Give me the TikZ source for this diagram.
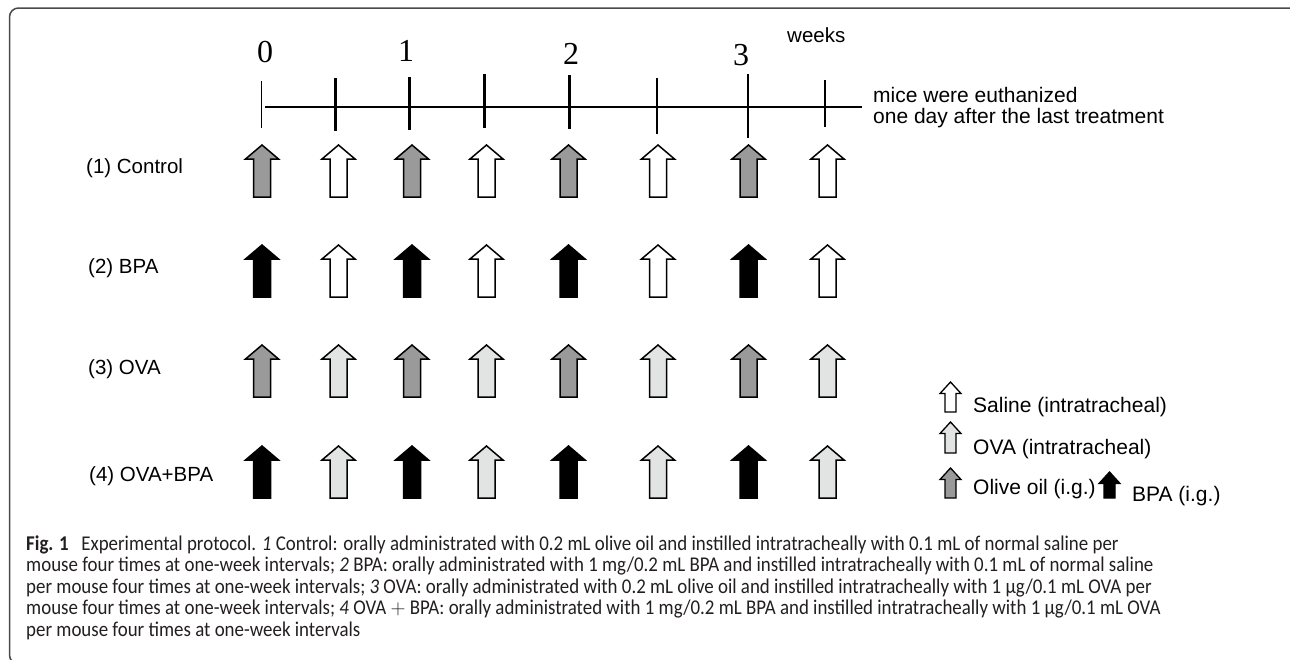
\documentclass[tikz,border=0pt]{standalone}
\usepackage{fontspec}
\setmainfont{Liberation Sans}
\newfontfamily\numfont{Liberation Serif}
\newfontfamily\capfont[FakeStretch=0.9]{Carlito}
\definecolor{olive}{HTML}{9A9A9A}
\definecolor{ovac}{HTML}{E2E3E3}
\definecolor{framec}{HTML}{4A4A4A}
\definecolor{captc}{HTML}{231F20}
\tikzset{
  arrowline/.style={draw=black, line width=1.5pt, line join=miter},
  lbl/.style={inner sep=0pt, anchor=base west, font=\fontsize{20.5}{24}\selectfont},
  wk/.style={inner sep=0pt, anchor=base, font=\fontsize{32}{36}\numfont},
  capl/.style={inner sep=0pt, anchor=base west, text=captc, font=\fontsize{21}{24}\capfont},
  tick/.style={line width=2.4pt},
}
% big arrow: x centre, y tip, fill
\newcommand\bigarr[3]{%
  \draw[arrowline, fill=#3] (#1-8.5,#2+52) -- (#1-8.5,#2+14) -- (#1-16.5,#2+14) -- (#1,#2)
    -- (#1+16.5,#2+14) -- (#1+8.5,#2+14) -- (#1+8.5,#2+52) -- cycle;}
% small legend arrow: x centre, y tip, y bottom, fill
\newcommand\smallarr[4]{%
  \draw[arrowline, line width=1.3pt, fill=#4] (#1-5.5,#3) -- (#1-5.5,#2+11.5) -- (#1-10.5,#2+11.5) -- (#1,#2)
    -- (#1+10.5,#2+11.5) -- (#1+5.5,#2+11.5) -- (#1+5.5,#3) -- cycle;}
\begin{document}
\begin{tikzpicture}[x=1pt,y=-1pt]
\useasboundingbox (0,0) rectangle (1290,659);
% frame
\draw[framec, line width=1.5pt, rounded corners=9pt] (1300,8) -- (9.5,8) -- (9.5,664) -- (60,664);

% timeline
\coordinate (t0) at (261.7,107);
\coordinate (tend) at (862,107);
\draw[line width=2.2pt] (265,107) -- (tend);
\draw[line width=1.5pt] (261.7,81) -- (261.7,128);
\foreach \x/\a/\b in {335.3/78/131, 409.3/77/130, 484.3/74/128, 569.3/75/129, 656.7/78/134, 747.7/74/138}
  \draw[tick] (\x,\a) -- (\x,\b);
\draw[line width=1.6pt] (825,80) -- (825,127);

% week numbers
\node[wk] (w0) at (265,62) {0};
\node[wk] (w1) at (406,61) {1};
\node[wk] (w2) at (571,64) {2};
\node[wk] (w3) at (741,65) {3};
\node[lbl] (weeks) at (787,42) {weeks};
\node[lbl, font=\fontsize{21}{24}\selectfont] (mice1) at (873,102) {mice were euthanized};
\node[lbl, font=\fontsize{21}{24}\selectfont] (mice2) at (873,123) {one day after the last treatment};

% row labels
\node[lbl] (r1) at (86,173) {(1) Control};
\node[lbl] (r2) at (88,273) {(2) BPA};
\node[lbl] (r3) at (88,374) {(3) OVA};
\node[lbl] (r4) at (89,481) {(4) OVA+BPA};

% arrows
\foreach \x [count=\i] in {262,338.5,412,486.5,568.5,658,748.5,827.5}{
  \ifodd\i
    \bigarr{\x}{145}{olive}
    \bigarr{\x}{245}{black}
    \bigarr{\x}{345}{olive}
    \bigarr{\x}{446}{black}
  \else
    \bigarr{\x}{145}{white}
    \bigarr{\x}{245}{white}
    \bigarr{\x}{345}{ovac}
    \bigarr{\x}{446}{ovac}
  \fi
}

% legend
\smallarr{950.5}{382}{412}{white}
\smallarr{950.5}{422}{453}{ovac}
\smallarr{950.5}{468}{498}{olive}
\smallarr{1109.5}{472}{498}{black}
\node[lbl, font=\fontsize{21}{24}\selectfont] (lg1) at (973,412) {Saline (intratracheal)};
\node[lbl, font=\fontsize{21}{24}\selectfont] (lg2) at (973,454) {OVA (intratracheal)};
\node[lbl, font=\fontsize{21}{24}\selectfont] (lg3) at (973,494) {Olive oil (i.g.)};
\node[lbl, font=\fontsize{21}{24}\selectfont] (lg4) at (1132,501) {BPA (i.g.)};

% caption
\node[capl] (c1) at (26,550) {\textbf{Fig. 1}\hspace{0.6em}Experimental protocol. \textit{1} Control: orally administrated with 0.2 mL olive oil and instilled intratracheally with 0.1 mL of normal saline per};
\node[capl] (c2) at (26,571.5) {mouse four times at one-week intervals; \textit{2} BPA: orally administrated with 1 mg/0.2 mL BPA and instilled intratracheally with 0.1 mL of normal saline};
\node[capl] (c3) at (26,593) {per mouse four times at one-week intervals; \textit{3} OVA: orally administrated with 0.2 mL olive oil and instilled intratracheally with 1 µg/0.1 mL OVA per};
\node[capl] (c4) at (26,614.5) {mouse four times at one-week intervals; \textit{4} OVA $+$ BPA: orally administrated with 1 mg/0.2 mL BPA and instilled intratracheally with 1 µg/0.1 mL OVA};
\node[capl] (c5) at (26,636) {per mouse four times at one-week intervals};
\end{tikzpicture}
\end{document}
